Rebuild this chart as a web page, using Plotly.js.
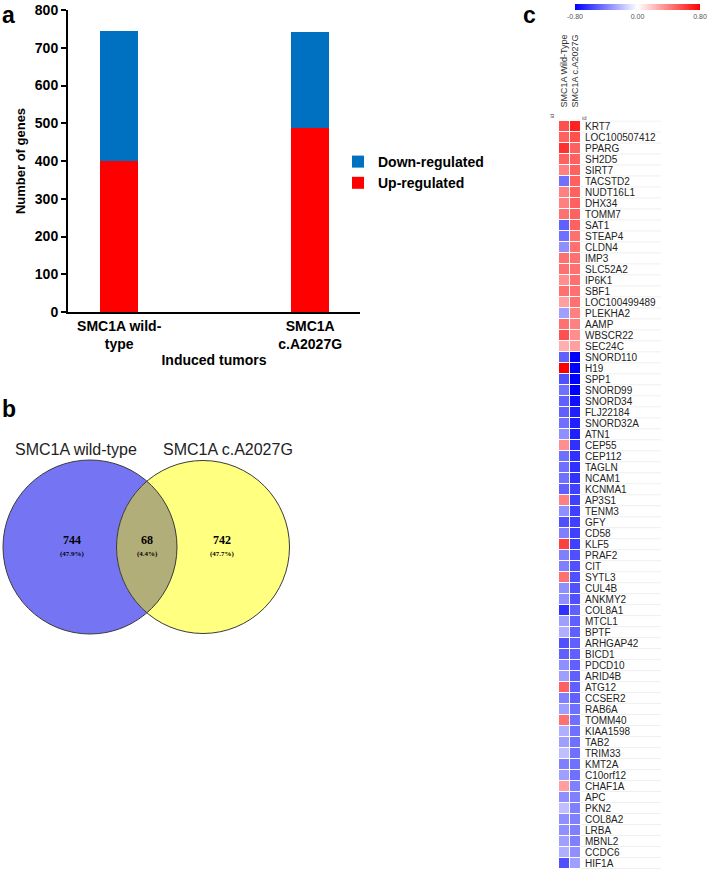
<!DOCTYPE html>
<html>
<head>
<meta charset="utf-8">
<script src="https://cdn.plot.ly/plotly-3.0.1.min.js"></script>
<style>html,body{margin:0;padding:0;background:#fff;}#chart{width:709px;height:873px;}</style>
</head>
<body>
<div id="chart"></div>
<script>
// ---------- Panel a data ----------
const categories = ['SMC1A wild-<br>type', 'SMC1A<br>c.A2027G'];
const upRegulated = [400, 487];
const downRegulated = [344, 255];

// ---------- Panel b data ----------
const vennSetLabels = ['SMC1A wild-type', 'SMC1A c.A2027G'];
const vennCounts = [744, 68, 742];
const vennPercents = ['47.9%', '4.4%', '47.7%'];

// ---------- Panel c data ----------
const genes = ['KRT7','LOC100507412','PPARG','SH2D5','SIRT7','TACSTD2','NUDT16L1','DHX34','TOMM7','SAT1',
  'STEAP4','CLDN4','IMP3','SLC52A2','IP6K1','SBF1','LOC100499489','PLEKHA2','AAMP','WBSCR22',
  'SEC24C','SNORD110','H19','SPP1','SNORD99','SNORD34','FLJ22184','SNORD32A','ATN1','CEP55',
  'CEP112','TAGLN','NCAM1','KCNMA1','AP3S1','TENM3','GFY','CD58','KLF5','PRAF2',
  'CIT','SYTL3','CUL4B','ANKMY2','COL8A1','MTCL1','BPTF','ARHGAP42','BICD1','PDCD10',
  'ARID4B','ATG12','CCSER2','RAB6A','TOMM40','KIAA1598','TAB2','TRIM33','KMT2A','C10orf12',
  'CHAF1A','APC','PKN2','COL8A2','LRBA','MBNL2','CCDC6','HIF1A'];
const sampleLabels = ['SMC1A Wild-Type', 'SMC1A c.A2027G'];
const wildType = [0.55,0.5,0.65,0.5,0.4,-0.45,0.4,0.4,0.45,-0.5,
  -0.45,-0.35,0.45,0.45,0.35,0.45,0.3,-0.3,0.45,0.55,
  0.25,-0.5,0.8,-0.55,-0.45,-0.5,-0.5,-0.45,-0.35,0.35,
  -0.45,-0.45,-0.45,-0.5,0.4,-0.35,-0.55,-0.4,0.6,-0.4,
  -0.4,0.45,-0.35,-0.35,-0.65,-0.3,-0.25,-0.55,-0.5,-0.35,
  -0.3,0.5,-0.4,-0.3,0.45,-0.25,-0.3,-0.2,-0.4,-0.3,
  0.3,-0.35,-0.2,-0.35,-0.35,-0.3,-0.25,-0.55];
const mutant = [0.7,0.55,0.5,0.5,0.5,0.5,0.5,0.5,0.5,0.5,
  0.45,0.45,0.45,0.45,0.45,0.45,0.45,0.4,0.4,0.35,
  0.3,-0.8,-0.8,-0.8,-0.8,-0.75,-0.7,-0.7,-0.7,-0.65,
  -0.65,-0.65,-0.65,-0.6,-0.6,-0.6,-0.6,-0.6,-0.6,-0.55,
  -0.55,-0.55,-0.55,-0.55,-0.5,-0.5,-0.5,-0.5,-0.5,-0.5,
  -0.5,-0.5,-0.5,-0.45,-0.45,-0.45,-0.45,-0.45,-0.45,-0.45,
  -0.4,-0.4,-0.4,-0.4,-0.4,-0.4,-0.35,-0.3];

const W = 709, H = 873;
const px = v => v / W;            // x pixel -> paper
const py = v => (H - v) / H;      // y pixel (from top) -> paper
const FONT = 'Arial, "Liberation Sans", sans-serif';
const SERIF = '"Times New Roman", "Liberation Serif", serif';

const z = genes.map((g, i) => [wildType[i], mutant[i]]);

const traces = [
  {type: 'bar', name: 'Up-regulated', x: categories, y: upRegulated,
   marker: {color: '#FF0000'}, xaxis: 'x', yaxis: 'y', hoverinfo: 'skip'},
  {type: 'bar', name: 'Down-regulated', x: categories, y: downRegulated,
   marker: {color: '#0070C0'}, xaxis: 'x', yaxis: 'y', hoverinfo: 'skip'},
  {type: 'heatmap', x: sampleLabels, y: genes, z: z, xaxis: 'x3', yaxis: 'y3',
   zmin: -0.8, zmax: 0.8, xgap: 1, ygap: 1, showlegend: false,
   colorscale: [[0, 'rgb(0,0,255)'], [0.5, 'rgb(255,255,255)'], [1, 'rgb(255,0,0)']],
   colorbar: {orientation: 'h', x: px(637.5), xanchor: 'center', y: py(4), yanchor: 'top',
     lenmode: 'pixels', len: 125, thickness: 6, outlinewidth: 0, xpad: 0, ypad: 0,
     tickvals: [-0.8, 0, 0.8], ticktext: ['-0.80', '0.00', '0.80'], ticks: '',
     tickfont: {family: FONT, size: 7, color: '#555'}}}
];

// Venn geometry (pixel units on x2/y2)
const c1 = {x: 90, y: 547, r: 87};
const c2 = {x: 203, y: 547, r: 86.5};
function lensPath() {
  const d = c2.x - c1.x;
  const a = (c1.r * c1.r - c2.r * c2.r + d * d) / (2 * d);
  const h = Math.sqrt(c1.r * c1.r - a * a);
  const t1 = Math.atan2(h, a);
  const t2 = Math.atan2(h, d - a);
  const pts = [];
  const N = 60;
  for (let k = 0; k <= N; k++) {
    const t = -t1 + 2 * t1 * k / N;
    pts.push([c1.x + c1.r * Math.cos(t), c1.y + c1.r * Math.sin(t)]);
  }
  for (let k = 0; k <= N; k++) {
    const t = Math.PI - t2 + 2 * t2 * k / N;
    pts.push([c2.x + c2.r * Math.cos(t), c2.y + c2.r * Math.sin(t)]);
  }
  return 'M' + pts.map(p => p[0].toFixed(2) + ',' + p[1].toFixed(2)).join('L') + 'Z';
}
function circ(c, fill, line) {
  return {type: 'circle', xref: 'x2', yref: 'y2', x0: c.x - c.r, x1: c.x + c.r,
    y0: c.y - c.r, y1: c.y + c.r, fillcolor: fill, line: line};
}
const shapes = [
  circ(c1, 'rgb(117,117,243)', {width: 0}),
  circ(c2, 'rgb(255,255,128)', {width: 0}),
  {type: 'path', xref: 'x2', yref: 'y2', path: lensPath(), fillcolor: 'rgb(178,174,122)', line: {width: 0}},
  circ(c1, 'rgba(0,0,0,0)', {color: '#3a3a3a', width: 1}),
  circ(c2, 'rgba(0,0,0,0)', {color: '#3a3a3a', width: 1})
];
for (let i = 0; i <= genes.length; i++) {
  shapes.push({type: 'line', xref: 'paper', yref: 'y3', x0: px(581), x1: px(661),
    y0: i - 0.5, y1: i - 0.5, line: {color: '#efefef', width: 1}, layer: 'below'});
}

const vennX = [72, 147, 222];
const annotations = [
  {text: '<b>a</b>', xref: 'paper', yref: 'paper', x: px(0), y: py(0), xanchor: 'left', yanchor: 'top',
   showarrow: false, font: {family: FONT, size: 23, color: '#000'}},
  {text: '<b>b</b>', xref: 'paper', yref: 'paper', x: px(0), y: py(394), xanchor: 'left', yanchor: 'top',
   showarrow: false, font: {family: FONT, size: 23, color: '#000'}},
  {text: '<b>c</b>', xref: 'paper', yref: 'paper', x: px(521), y: py(0), xanchor: 'left', yanchor: 'top',
   showarrow: false, font: {family: FONT, size: 23, color: '#000'}},
  {text: vennSetLabels[0], xref: 'x2', yref: 'y2', x: 76, y: 449, showarrow: false,
   font: {family: FONT, size: 16, color: '#222'}},
  {text: vennSetLabels[1], xref: 'x2', yref: 'y2', x: 228, y: 449, showarrow: false,
   font: {family: FONT, size: 16, color: '#222'}},
  {text: 'id', xref: 'paper', yref: 'paper', x: px(557), y: py(112), showarrow: false, textangle: -90,
   font: {family: FONT, size: 6, color: '#555'}},
  {text: 'id', xref: 'paper', yref: 'paper', x: px(589), y: py(113), showarrow: false,
   font: {family: FONT, size: 6, color: '#555'}}
];
vennCounts.forEach((c, i) => {
  annotations.push({text: '<b>' + c + '</b>', xref: 'x2', yref: 'y2', x: vennX[i], y: 540, borderpad: 0,
    showarrow: false, font: {family: SERIF, size: 12, color: '#000'}});
  annotations.push({text: '<b>(' + vennPercents[i] + ')</b>', xref: 'x2', yref: 'y2', x: vennX[i], y: 553.5, borderpad: 0,
    showarrow: false, font: {family: SERIF, size: 7, color: '#000'}});
});

const layout = {
  width: W, height: H, margin: {l: 0, r: 0, t: 0, b: 0}, paper_bgcolor: '#fff', plot_bgcolor: 'rgba(0,0,0,0)',
  barmode: 'stack', bargap: 0.8, showlegend: true,
  font: {family: FONT, color: '#000'},
  legend: {x: px(338), y: py(146), xanchor: 'left', yanchor: 'top', traceorder: 'reversed',
    bgcolor: 'rgba(0,0,0,0)', font: {family: FONT, size: 14, color: '#000', weight: 'bold'},
    itemclick: false, tracegroupgap: 0},
  xaxis: {domain: [px(68), px(360)], anchor: 'y', type: 'category', range: [-0.268, 1.261],
    showline: true, linewidth: 2, linecolor: '#000', ticks: '', showgrid: false, zeroline: false,
    tickfont: {family: FONT, size: 14, color: '#000', weight: 'bold'},
    title: {text: '<b>Induced tumors</b>', font: {family: FONT, size: 14, color: '#000'}, standoff: 2},
    fixedrange: true},
  yaxis: {domain: [py(312), py(10)], anchor: 'x', range: [0, 800], dtick: 100,
    showline: true, linewidth: 2, linecolor: '#000', ticks: 'outside', ticklen: 5, tickwidth: 2, tickcolor: '#000',
    showgrid: false, zeroline: false,
    tickfont: {family: FONT, size: 14, color: '#000', weight: 'bold'},
    title: {text: '<b>Number of genes</b>', font: {family: FONT, size: 13, color: '#000'}, standoff: 6},
    fixedrange: true},
  xaxis2: {domain: [0, px(300)], anchor: 'y2', range: [0, 300], visible: false, fixedrange: true},
  yaxis2: {domain: [py(650), py(430)], anchor: 'x2', range: [650, 430], visible: false, fixedrange: true},
  xaxis3: {domain: [px(559), px(581)], anchor: 'y3', side: 'top', tickangle: -90, ticks: '', showgrid: false,
    zeroline: false, showline: false, ticklabelstandoff: 12,
    tickmode: 'array', tickvals: sampleLabels, ticktext: sampleLabels,
    tickfont: {family: FONT, size: 9, color: '#333'}, fixedrange: true},
  yaxis3: {domain: [py(869), py(120.5)], anchor: 'x3', side: 'right', autorange: 'reversed', ticks: '', showgrid: false,
    zeroline: false, showline: false, ticklabelstandoff: 3, dtick: 1,
    tickfont: {family: FONT, size: 10, color: '#222'}, fixedrange: true},
  shapes: shapes,
  annotations: annotations
};

Plotly.newPlot('chart', traces, layout, {displayModeBar: false, staticPlot: true});
</script>
</body>
</html>
